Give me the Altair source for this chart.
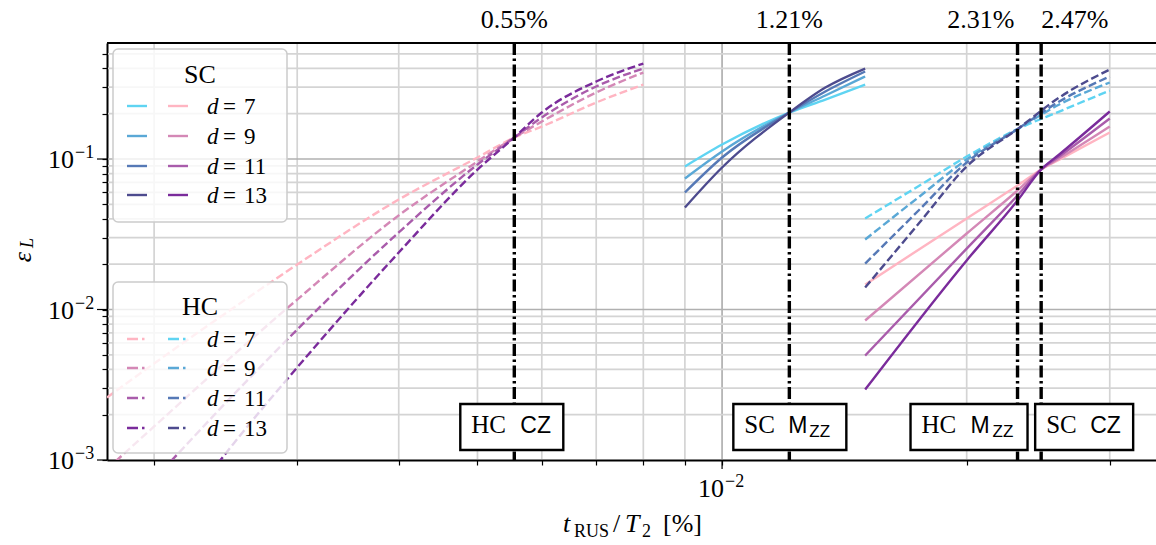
import altair as alt
import pandas as pd

# ---------------- data ----------------
d_values = [7, 9, 11, 13]

# HC, CZ gate (dashed, pink -> purple)
hc_cz_x = [0.00175, 0.002, 0.0025, 0.003, 0.004, 0.005, 0.00555, 0.006, 0.007, 0.008]
hc_cz_y7 = [0.00260, 0.00438, 0.0102, 0.0199, 0.0538, 0.1023, 0.139, 0.1644, 0.2373, 0.3126]
hc_cz_y9 = [0.00087, 0.00167, 0.00494, 0.01164, 0.0422, 0.0962, 0.139, 0.1774, 0.2767, 0.3756]
hc_cz_y11 = [0.00036, 0.00075, 0.00269, 0.00736, 0.0325, 0.0919, 0.139, 0.1888, 0.3033, 0.3992]
hc_cz_y13 = [0.00010, 0.00026, 0.00127, 0.00412, 0.0239, 0.0851, 0.139, 0.2037, 0.3273, 0.431]

# SC, M_ZZ gate (solid, blues)
sc_mzz_x = [0.009, 0.01, 0.0121, 0.0134, 0.015]
sc_mzz_y7 = [0.0892, 0.1248, 0.2037, 0.2484, 0.3126]
sc_mzz_y9 = [0.0742, 0.1122, 0.2037, 0.2644, 0.3533]
sc_mzz_y11 = [0.0599, 0.1023, 0.2037, 0.2809, 0.3815]
sc_mzz_y13 = [0.0476, 0.0878, 0.2037, 0.2985, 0.3992]

# HC, M_ZZ gate (dashed, blues)
hc_mzz_x = [0.015, 0.0175, 0.02, 0.0231, 0.026, 0.03]
hc_mzz_y7 = [0.0403, 0.0667, 0.1039, 0.158, 0.2068, 0.285]
hc_mzz_y9 = [0.0292, 0.0564, 0.0992, 0.158, 0.2302, 0.3224]
hc_mzz_y11 = [0.0202, 0.0462, 0.0948, 0.158, 0.241, 0.3533]
hc_mzz_y13 = [0.0140, 0.0378, 0.0892, 0.158, 0.2562, 0.3932]

# SC, CZ gate (solid, pink -> purple)
sc_cz_x = [0.015, 0.02, 0.0231, 0.0247, 0.026, 0.03]
sc_cz_y7 = [0.01466, 0.0403, 0.0667, 0.0852, 0.0990, 0.150]
sc_cz_y9 = [0.00845, 0.0320, 0.0618, 0.0852, 0.1008, 0.1644]
sc_cz_y11 = [0.00494, 0.0254, 0.0572, 0.0852, 0.1039, 0.1858]
sc_cz_y13 = [0.00294, 0.0212, 0.0530, 0.0852, 0.1071, 0.2068]

thresholds = [0.00555, 0.0121, 0.0231, 0.0247]
threshold_labels = ["0.55%", "1.21%", "2.31%", "2.47%"]
gate_code = ["HC", "SC", "HC", "SC"]
gate_name = ["CZ", "M", "M", "CZ"]
gate_sub = ["", "ZZ", "ZZ", ""]

x_major_ticks = [0.01]
x_minor_ticks = [0.002, 0.003, 0.004, 0.005, 0.006, 0.007, 0.008, 0.009, 0.02, 0.03]
y_major_ticks = [0.1, 0.01, 0.001]
y_minor_ticks = [round(k * 10.0 ** e, 6) for e in (-3, -2, -1) for k in range(2, 10)]
y_minor_ticks = [v for v in y_minor_ticks if v <= 0.59]
y_label_exps = ["\u22121", "\u22122", "\u22123"]
x_label_exps = ["\u22122"]

blue_colors = ["#5fd4f2", "#5aa8d6", "#5679b6", "#4d4b8e"]
pink_colors = ["#ffb5c2", "#d488b6", "#a95cab", "#7a2b9b"]

# ---------------- layout ----------------
W, H = 1049, 417
SERIF = "Liberation Serif"
SANS = "Liberation Sans"
GRID_MINOR = "#d4d4d4"
GRID_MAJOR = "#b0b0b0"

xscale = alt.Scale(type="log", domain=[0.00175, 0.0342], nice=False)
yscale = alt.Scale(type="log", domain=[0.001, 0.59], nice=False)

x_axis = alt.Axis(
    values=x_major_ticks + x_minor_ticks, labels=False, title=None, grid=False,
    tickColor="black", tickWidth=1.2, tickSize=5,
    domainColor="black", domainWidth=2, orient="bottom",
)
y_axis = alt.Axis(
    values=y_major_ticks + y_minor_ticks, labels=False, title=None, grid=False,
    tickColor="black", tickWidth=1.2, tickSize=5,
    domainColor="black", domainWidth=2, orient="left",
)
X = lambda f="x:Q": alt.X(f, scale=xscale, axis=x_axis)
Y = lambda f="y:Q": alt.Y(f, scale=yscale, axis=y_axis)

one = pd.DataFrame({"k": [0]})
layers = []

# ---------------- grid ----------------
for vals, col in ((x_minor_ticks, GRID_MINOR), (x_major_ticks, GRID_MAJOR)):
    layers.append(
        alt.Chart(pd.DataFrame({"x": vals})).mark_rule(color=col, strokeWidth=1.7).encode(
            x=X(), y=alt.value(0), y2=alt.value(H - 1))
    )
y_major_grid = [v for v in y_major_ticks if v > 0.001]
for vals, col in ((y_minor_ticks, GRID_MINOR), (y_major_grid, GRID_MAJOR)):
    layers.append(
        alt.Chart(pd.DataFrame({"y": vals})).mark_rule(color=col, strokeWidth=1.7).encode(
            y=Y(), x=alt.value(1), x2=alt.value(W))
    )
# longer major ticks
layers.append(
    alt.Chart(pd.DataFrame({"x": x_major_ticks})).mark_rule(color="black", strokeWidth=1.2).encode(
        x=X(), y=alt.value(H), y2=alt.value(H + 9))
)
layers.append(
    alt.Chart(pd.DataFrame({"y": y_major_ticks})).mark_rule(color="black", strokeWidth=1.2).encode(
        y=Y(), x=alt.value(-10), x2=alt.value(0))
)

# ---------------- curves ----------------
groups = [
    ("hccz", hc_cz_x, [hc_cz_y7, hc_cz_y9, hc_cz_y11, hc_cz_y13], "p", True),
    ("scmzz", sc_mzz_x, [sc_mzz_y7, sc_mzz_y9, sc_mzz_y11, sc_mzz_y13], "b", False),
    ("hcmzz", hc_mzz_x, [hc_mzz_y7, hc_mzz_y9, hc_mzz_y11, hc_mzz_y13], "b", True),
    ("sccz", sc_cz_x, [sc_cz_y7, sc_cz_y9, sc_cz_y11, sc_cz_y13], "p", False),
]
rows = []
for gname, xs, ylists, pal, dashed in groups:
    for d, ys in zip(d_values, ylists):
        for x, y in zip(xs, ys):
            rows.append({"series": f"{gname}-{d}", "ck": f"{pal}{d}", "x": x, "y": y, "dashed": dashed})
curves = pd.DataFrame(rows)

ck_domain = [f"p{d}" for d in d_values] + [f"b{d}" for d in d_values]
ck_range = pink_colors + blue_colors
color_enc = alt.Color("ck:N", scale=alt.Scale(domain=ck_domain, range=ck_range), legend=None)

layers.append(
    alt.Chart(curves[~curves.dashed]).mark_line(strokeWidth=2.4, clip=True, interpolate="monotone").encode(
        x=X(), y=Y(), color=color_enc, detail="series:N")
)
layers.append(
    alt.Chart(curves[curves.dashed]).mark_line(
        strokeWidth=2.4, clip=True, interpolate="monotone", strokeDash=[8, 3.5]
    ).encode(x=X(), y=Y(), color=color_enc, detail="series:N")
)

# ---------------- threshold lines ----------------
thr_df = pd.DataFrame({"x": thresholds, "label": threshold_labels})
layers.append(
    alt.Chart(thr_df).mark_rule(color="black", strokeWidth=3.4, strokeDash=[12, 3.5, 2.5, 3.5]).encode(
        x=X(), y=alt.value(0), y2=alt.value(H))
)
# top spine
layers.append(
    alt.Chart(one).mark_rule(color="black", strokeWidth=2).encode(
        x=alt.value(0), x2=alt.value(W), y=alt.value(0))
)

# top labels
top_align = [("center", 0), ("center", 0), ("right", -3), ("left", 0)]
for i, (xv, lab) in enumerate(zip(thresholds, threshold_labels)):
    al, dx = top_align[i]
    layers.append(
        alt.Chart(pd.DataFrame({"x": [xv], "t": [lab]})).mark_text(
            align=al, baseline="alphabetic", dx=dx, font=SERIF, fontSize=26, color="black"
        ).encode(x=X(), y=alt.value(-15), text="t:N")
    )

# gate boxes
box_geo = [(-54, 49), (-56, 57), (-107, 10), (-6, 92)]
text_dx = [(-43, 6, None), (-45, -1, 20), (-96, -47, -25), (5, 49, None)]
for i, xv in enumerate(thresholds):
    src = pd.DataFrame({"x": [xv], "code": [gate_code[i]], "name": [gate_name[i]], "sub": [gate_sub[i]]})
    l, r = box_geo[i]
    layers.append(
        alt.Chart(src).mark_rect(fill="white", stroke="black", strokeWidth=2.4, xOffset=l, x2Offset=r).encode(
            x=X(), x2="x:Q", y=alt.value(361), y2=alt.value(407))
    )
    dc, dn, ds = text_dx[i]
    layers.append(
        alt.Chart(src).mark_text(align="left", baseline="alphabetic", dx=dc, font=SERIF, fontSize=25,
                                 color="black").encode(x=X(), y=alt.value(390), text="code:N")
    )
    layers.append(
        alt.Chart(src).mark_text(align="left", baseline="alphabetic", dx=dn, font=SANS, fontSize=23,
                                 color="black").encode(x=X(), y=alt.value(390), text="name:N")
    )
    if ds is not None:
        layers.append(
            alt.Chart(src).mark_text(align="left", baseline="alphabetic", dx=ds, font=SANS, fontSize=17,
                                     color="black").encode(x=X(), y=alt.value(394), text="sub:N")
        )

# ---------------- tick labels ----------------
ylab = pd.DataFrame({"y": y_major_ticks, "base": ["10"] * 3, "exp": y_label_exps})
layers.append(
    alt.Chart(ylab).mark_text(align="right", baseline="alphabetic", dy=9, font=SERIF, fontSize=26,
                              color="black").encode(x=alt.value(-33), y=Y(), text="base:N")
)
layers.append(
    alt.Chart(ylab).mark_text(align="left", baseline="alphabetic", dy=-1, dx=1, font=SERIF, fontSize=18,
                              color="black").encode(x=alt.value(-33), y=Y(), text="exp:N")
)
xlab = pd.DataFrame({"x": x_major_ticks, "base": ["10"], "exp": x_label_exps})
layers.append(
    alt.Chart(xlab).mark_text(align="right", baseline="alphabetic", dx=2, font=SERIF, fontSize=26,
                              color="black").encode(x=X(), y=alt.value(454), text="base:N")
)
layers.append(
    alt.Chart(xlab).mark_text(align="left", baseline="alphabetic", dx=3, font=SERIF, fontSize=18,
                              color="black").encode(x=X(), y=alt.value(444), text="exp:N")
)


def txt(s, x, y, size=26, style="normal", font=SERIF, align="left", angle=0, baseline="alphabetic"):
    return alt.Chart(one).mark_text(
        text=s, align=align, baseline=baseline, font=font, fontSize=size, fontStyle=style,
        angle=angle, color="black"
    ).encode(x=alt.value(x), y=alt.value(y))


# axis titles
layers += [
    txt("t", 456, 489, style="italic"),
    txt("RUS", 467, 494, size=18),
    txt("/", 506, 489),
    txt("T", 518, 489, style="italic"),
    txt("2", 535, 494, size=18),
    txt("[%]", 556, 489),
]
layers += [
    txt("\u03b5", -84, 214, style="italic", angle=270, align="center", baseline="middle"),
    txt("L", -79, 200, size=18, style="italic", angle=270, align="center", baseline="middle"),
]


# ---------------- legends ----------------
def legend(top, bottom, title, title_y, row_ys, first, second, dash):
    out = [
        alt.Chart(one).mark_rect(fill="white", fillOpacity=0.8, stroke="#cccccc", strokeWidth=1.5,
                                 cornerRadius=5).encode(
            x=alt.value(6), x2=alt.value(180), y=alt.value(top), y2=alt.value(bottom)),
        txt(title, 93, title_y, size=26, align="center"),
    ]
    for i, ry in enumerate(row_ys):
        for (xa, xb), col in (((20, 40), first[i]), ((61, 81), second[i])):
            kw = {"strokeDash": dash} if dash else {}
            out.append(
                alt.Chart(one).mark_rule(color=col, strokeWidth=2.4, **kw).encode(
                    x=alt.value(xa), x2=alt.value(xb), y=alt.value(ry))
            )
        out.append(txt("d", 100, ry + 8, size=23, style="italic"))
        out.append(txt("=", 116, ry + 8, size=23))
        out.append(txt(str(d_values[i]), 137, ry + 8, size=23))
    return out


layers += legend(6, 179, "SC", 40, [63, 93, 123, 152], blue_colors, pink_colors, None)
layers += legend(239, 410, "HC", 272, [296, 325, 355, 385], pink_colors, blue_colors, [11, 4, 2.5, 4])

chart = alt.layer(*layers).properties(
    width=W, height=H,
    autosize=alt.AutoSizeParams(type="none"),
    padding={"left": 107, "top": 43, "right": 0, "bottom": 85},
    background="white",
).configure_view(stroke=None)

chart.save("out.html", embed_options={"renderer": "svg", "actions": False})
